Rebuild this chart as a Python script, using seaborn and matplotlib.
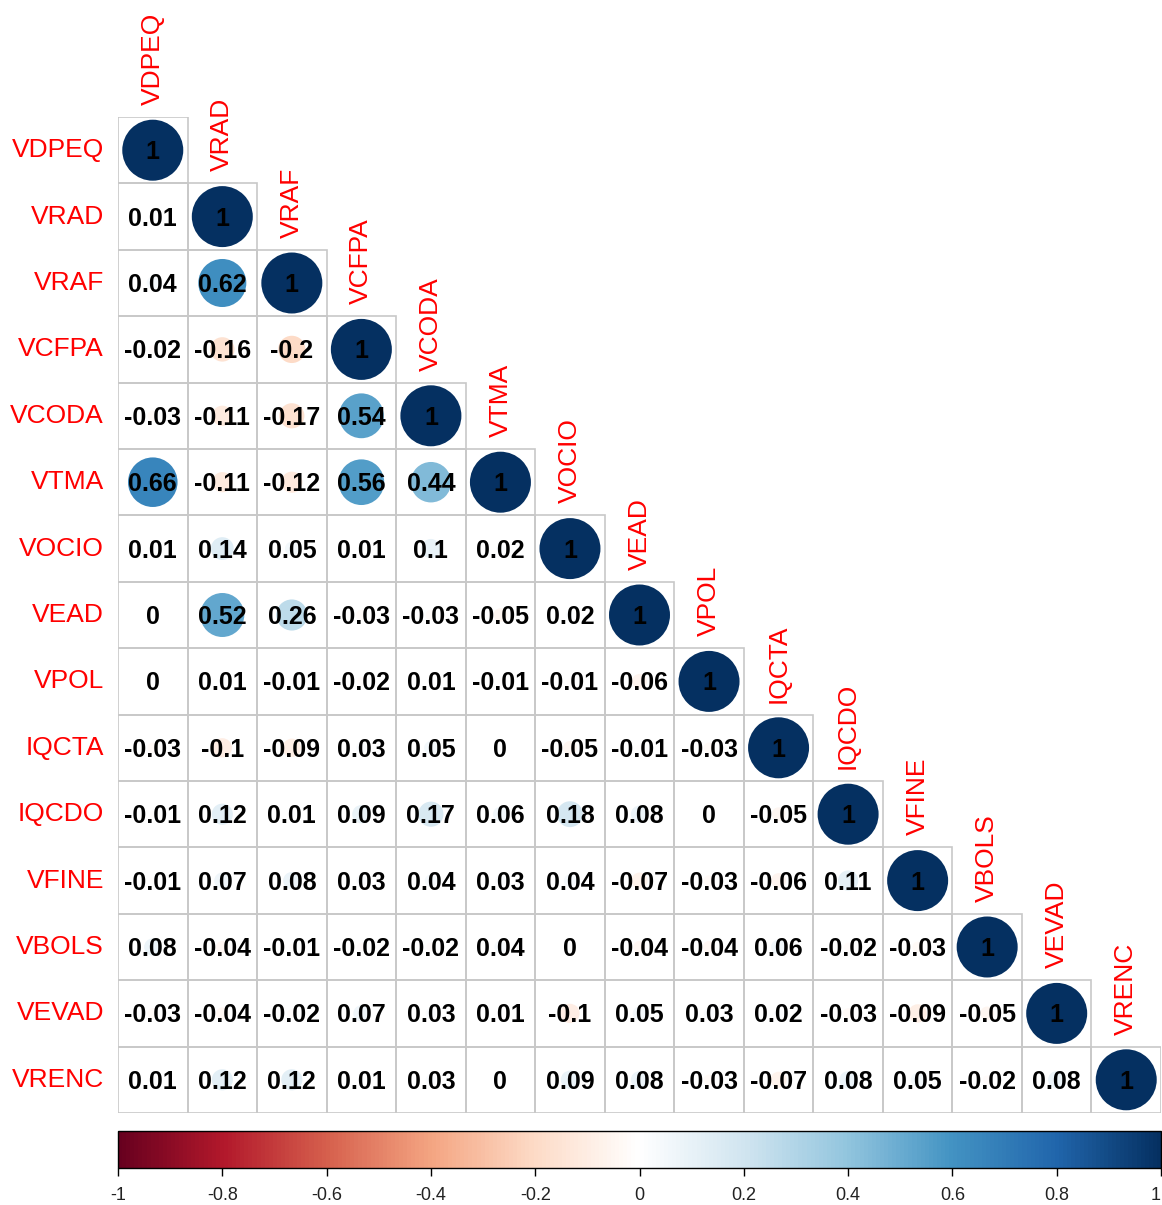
import numpy as np
import pandas as pd
import matplotlib
matplotlib.use("Agg")
import matplotlib.pyplot as plt
from matplotlib.colors import LinearSegmentedColormap, Normalize
from matplotlib.patches import Rectangle
import seaborn as sns

# Variable names (rows top to bottom, columns left to right)
variables = ["VDPEQ", "VRAD", "VRAF", "VCFPA", "VCODA", "VTMA", "VOCIO", "VEAD",
             "VPOL", "IQCTA", "IQCDO", "VFINE", "VBOLS", "VEVAD", "VRENC"]

# Lower-triangle correlation coefficients, one list per row
r_vdpeq = [1]
r_vrad = [0.01, 1]
r_vraf = [0.04, 0.62, 1]
r_vcfpa = [-0.02, -0.16, -0.2, 1]
r_vcoda = [-0.03, -0.11, -0.17, 0.54, 1]
r_vtma = [0.66, -0.11, -0.12, 0.56, 0.44, 1]
r_vocio = [0.01, 0.14, 0.05, 0.01, 0.1, 0.02, 1]
r_vead = [0, 0.52, 0.26, -0.03, -0.03, -0.05, 0.02, 1]
r_vpol = [0, 0.01, -0.01, -0.02, 0.01, -0.01, -0.01, -0.06, 1]
r_iqcta = [-0.03, -0.1, -0.09, 0.03, 0.05, 0, -0.05, -0.01, -0.03, 1]
r_iqcdo = [-0.01, 0.12, 0.01, 0.09, 0.17, 0.06, 0.18, 0.08, 0, -0.05, 1]
r_vfine = [-0.01, 0.07, 0.08, 0.03, 0.04, 0.03, 0.04, -0.07, -0.03, -0.06, 0.11, 1]
r_vbols = [0.08, -0.04, -0.01, -0.02, -0.02, 0.04, 0, -0.04, -0.04, 0.06, -0.02, -0.03, 1]
r_vevad = [-0.03, -0.04, -0.02, 0.07, 0.03, 0.01, -0.1, 0.05, 0.03, 0.02, -0.03, -0.09, -0.05, 1]
r_vrenc = [0.01, 0.12, 0.12, 0.01, 0.03, 0, 0.09, 0.08, -0.03, -0.07, 0.08, 0.05, -0.02, 0.08, 1]

rows = [r_vdpeq, r_vrad, r_vraf, r_vcfpa, r_vcoda, r_vtma, r_vocio, r_vead,
        r_vpol, r_iqcta, r_iqcdo, r_vfine, r_vbols, r_vevad, r_vrenc]

colorbar_ticks = [-1, -0.8, -0.6, -0.4, -0.2, 0, 0.2, 0.4, 0.6, 0.8, 1]

records = []
for i, row in enumerate(rows):
    for j, val in enumerate(row):
        records.append({"col": j, "row": i, "r": val, "absr": abs(val)})
df = pd.DataFrame(records)

# Diverging red-blue palette with a pure white midpoint
rdbu = LinearSegmentedColormap.from_list(
    "rdbu_white",
    ["#67001F", "#B2182B", "#D6604D", "#F4A582", "#FDDBC7", "#FFFFFF",
     "#D1E5F0", "#92C5DE", "#4393C3", "#2166AC", "#053061"], N=256)
norm = Normalize(-1, 1)

sns.set_theme(style="white")
plt.rcParams["font.family"] = ["Liberation Sans", "DejaVu Sans"]

W, H = 1162, 1205
fig = plt.figure(figsize=(W / 100, H / 100), dpi=100)

gx0, gx1, gy0, gy1 = 118, 1161, 117, 1113
n = len(variables)
cw = (gx1 - gx0) / n
ch = (gy1 - gy0) / n
ax = fig.add_axes([gx0 / W, 1 - gy1 / H, (gx1 - gx0) / W, (gy1 - gy0) / H])

# Cell borders of the lower triangle
for i in range(n):
    for j in range(i + 1):
        ax.add_patch(Rectangle((j - 0.5, i - 0.5), 1, 1, fill=False,
                               edgecolor="#C8C8C8", lw=1.2, zorder=1))

# Circles: area proportional to |r|, colour by r
dmax_pt = 61 * 0.72
sns.scatterplot(data=df, x="col", y="row", hue="r", palette=rdbu, hue_norm=norm,
                size="absr", sizes=(0, dmax_pt ** 2), size_norm=(0, 1),
                legend=False, edgecolor="none", linewidth=0, ax=ax, zorder=2)

# Coefficient labels
for rec in records:
    ax.text(rec["col"], rec["row"] + 0.03, f"{rec['r']:g}", ha="center", va="center",
            fontsize=18, fontweight="bold", color="black", zorder=3)

# Row labels on the left, column labels above the diagonal
for i, name in enumerate(variables):
    ax.text(-0.5 - 14 / cw, i, name, ha="right", va="center", color="red",
            fontsize=19)
    ax.text(i, i - 0.5 - 12 / ch, name, ha="center", va="bottom", rotation=90,
            color="red", fontsize=19)

ax.set_xlim(-0.5, n - 0.5)
ax.set_ylim(n - 0.5, -0.5)
ax.set_axis_off()

# Horizontal colour legend
cax = fig.add_axes([gx0 / W, 1 - 1168 / H, (gx1 - gx0) / W, 37 / H])
sm = plt.cm.ScalarMappable(cmap=rdbu, norm=norm)
cb = fig.colorbar(sm, cax=cax, orientation="horizontal")
cb.set_ticks(colorbar_ticks)
cb.set_ticklabels([f"{t:g}" for t in colorbar_ticks])
cb.outline.set_linewidth(1)
cb.outline.set_edgecolor("black")
cax.tick_params(axis="x", direction="out", length=6, width=1, color="black",
                labelsize=13, labelcolor="#222222", pad=8, bottom=True)
# keep the end label inside the figure edge
cax.get_xticklabels()[-1].set_horizontalalignment("right")

fig.savefig("out.png", dpi=100)
